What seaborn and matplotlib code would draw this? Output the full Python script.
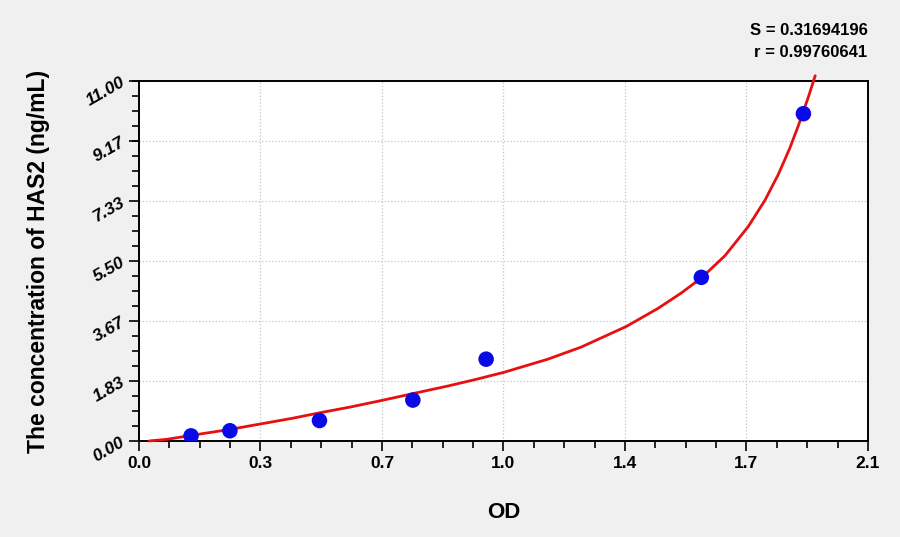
import matplotlib
matplotlib.use("Agg")
import matplotlib.pyplot as plt
import seaborn as sns
import numpy as np
import pandas as pd
from matplotlib.ticker import AutoMinorLocator

# standard points (OD vs concentration)
od_points = [0.150, 0.262, 0.520, 0.789, 1.000, 1.620, 1.914]
conc_points = [0.156, 0.3125, 0.625, 1.25, 2.5, 5.0, 10.0]

# fitted curve
curve_od = [0.029, 0.08, 0.15, 0.26, 0.35, 0.44, 0.52, 0.61, 0.70, 0.79, 0.89,
            0.97, 1.052, 1.178, 1.274, 1.404, 1.495, 1.562, 1.620, 1.688, 1.755,
            1.803, 1.842, 1.875, 1.900, 1.928, 1.948]
curve_conc = [0.00, 0.05, 0.17, 0.35, 0.52, 0.69, 0.86, 1.04, 1.24, 1.45, 1.68,
              1.88, 2.10, 2.50, 2.87, 3.50, 4.05, 4.52, 4.98, 5.66, 6.55,
              7.35, 8.15, 8.95, 9.65, 10.50, 11.16]

x_ticks = [0.0, 0.35, 0.7, 1.05, 1.4, 1.75, 2.1]
x_labels = ["0.0", "0.3", "0.7", "1.0", "1.4", "1.7", "2.1"]
y_ticks = [0.0, 1.8333, 3.6667, 5.5, 7.3333, 9.1667, 11.0]
y_labels = ["0.00", "1.83", "3.67", "5.50", "7.33", "9.17", "11.00"]

s_value = "S = 0.31694196"
r_value = "r = 0.99760641"

sns.set_theme(style="whitegrid")
plt.rcParams['font.family'] = ['Liberation Sans', 'DejaVu Sans']
plt.rcParams['text.color'] = 'black'
plt.rcParams['axes.labelcolor'] = 'black'
plt.rcParams['xtick.color'] = 'black'
plt.rcParams['ytick.color'] = 'black'

fig = plt.figure(figsize=(9, 5.37), dpi=100)
fig.patch.set_facecolor('#f0f0f0')
ax = fig.add_axes([0.1544, 0.1788, 0.81, 0.6704])
ax.set_facecolor('white')

pts = pd.DataFrame({'OD': od_points, 'conc': conc_points})
fit = pd.DataFrame({'OD': curve_od, 'conc': curve_conc})

sns.lineplot(data=fit, x='OD', y='conc', ax=ax, color='#e61010', linewidth=2.0,
             zorder=3, clip_on=False)
sns.scatterplot(data=pts, x='OD', y='conc', ax=ax, color='#0a0ae6', s=125,
                edgecolor='none', zorder=4)

ax.set_xlim(0, 2.1)
ax.set_ylim(0, 11)
ax.set_xticks(x_ticks)
ax.set_xticklabels(x_labels, fontsize=12.5, fontweight='bold')
ax.set_yticks(y_ticks)
ax.set_yticklabels(y_labels, fontsize=12.5, fontweight='bold', style='italic',
                   rotation=30, ha='right', va='center', rotation_mode='anchor')
ax.xaxis.set_minor_locator(AutoMinorLocator(4))
ax.yaxis.set_minor_locator(AutoMinorLocator(4))

ax.tick_params(which='major', direction='out', length=7, width=1.2, color='black',
               bottom=True, left=True, pad=4)
ax.tick_params(which='minor', direction='out', length=5, width=1.2, color='black',
               bottom=True, left=True)
ax.grid(True, which='major', linestyle=':', linewidth=0.9, color='#c4c4c4')

for sp in ax.spines.values():
    sp.set_color('black')
    sp.set_linewidth(1.4)

ax.set_xlabel('OD', fontsize=16, fontweight='bold', labelpad=22)
ax.set_ylabel('The concentration of HAS2 (ng/mL)', fontsize=16.5, fontweight='bold',
              labelpad=24)

fig.text(0.964, 0.944, s_value, ha='right', va='center', fontsize=12, fontweight='bold')
fig.text(0.964, 0.903, r_value, ha='right', va='center', fontsize=12, fontweight='bold')

fig.savefig('out.png', dpi=100, facecolor=fig.get_facecolor())
